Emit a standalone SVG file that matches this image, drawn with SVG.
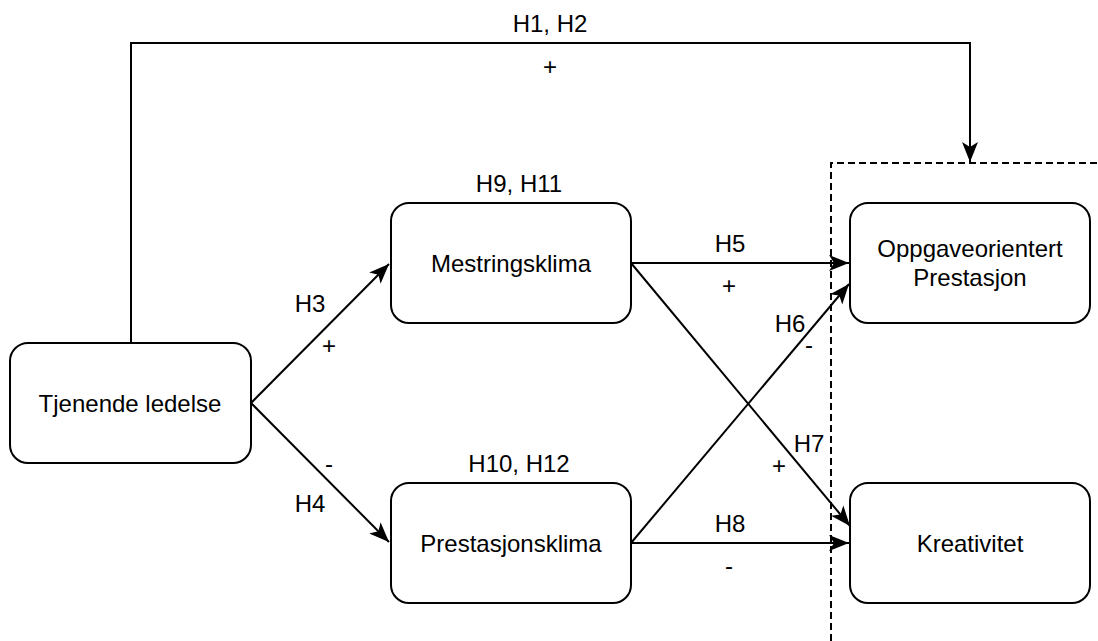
<svg xmlns="http://www.w3.org/2000/svg" width="1098" height="641" viewBox="0 0 1098 641">
<style>
.box{fill:#fff;stroke:#000;stroke-width:2}
.t{font-family:"Liberation Sans",Arial,sans-serif;font-size:24px;fill:#000;text-anchor:middle}
.c{fill:none;stroke:#000;stroke-width:2}
.d{fill:none;stroke:#000;stroke-width:2;stroke-dasharray:7 4}
</style>
<defs>
<marker id="arr" markerUnits="userSpaceOnUse" markerWidth="22" markerHeight="18" viewBox="0 0 22 18" refX="21" refY="9" orient="auto">
<path d="M1,1 L21,9 L1,17 L6,9 Z" fill="#000"/>
</marker>
</defs>
<rect x="0" y="0" width="1098" height="641" fill="#fff"/>
<g id="group-boundary">
<path class="d" d="M831,641 V163 H1098"/>
</g>
<g id="connectors">
<path class="c" d="M131,343 V43 H970 V162" marker-end="url(#arr)"/>
<path class="c" d="M251,403 L389,264" marker-end="url(#arr)"/>
<path class="c" d="M251,403 L389,542" marker-end="url(#arr)"/>
<path class="c" d="M631,263 H849" marker-end="url(#arr)"/>
<path class="c" d="M631,543 L849,284" marker-end="url(#arr)"/>
<path class="c" d="M631,263 L850,526" marker-end="url(#arr)"/>
<path class="c" d="M631,543 H849" marker-end="url(#arr)"/>
</g>
<g id="labels">
<text class="t" x="550" y="32">H1, H2</text>
<text class="t" x="550" y="75">+</text>
<text class="t" x="519" y="192">H9, H11</text>
<text class="t" x="519" y="472">H10, H12</text>
<text class="t" x="310" y="312">H3</text>
<text class="t" x="329" y="354">+</text>
<text class="t" x="329" y="472">-</text>
<text class="t" x="310" y="512">H4</text>
<text class="t" x="730" y="252">H5</text>
<text class="t" x="729" y="294">+</text>
<text class="t" x="790" y="332">H6</text>
<text class="t" x="809" y="353">-</text>
<text class="t" x="809" y="452">H7</text>
<text class="t" x="779" y="474">+</text>
<text class="t" x="730" y="532">H8</text>
<text class="t" x="729" y="574">-</text>
</g>
<g id="node-tjenende">
<rect class="box" x="10" y="343" width="241" height="120" rx="18"/>
<text class="t" x="130" y="411.5">Tjenende ledelse</text>
</g>
<g id="node-mestring">
<rect class="box" x="391" y="203" width="240" height="120" rx="18"/>
<text class="t" x="511" y="271.5">Mestringsklima</text>
</g>
<g id="node-prestasjon">
<rect class="box" x="391" y="483" width="240" height="120" rx="18"/>
<text class="t" x="511" y="551.5">Prestasjonsklima</text>
</g>
<g id="node-oppgave">
<rect class="box" x="850" y="203" width="240" height="120" rx="18"/>
<text class="t" x="970" y="257">Oppgaveorientert</text>
<text class="t" x="970" y="286">Prestasjon</text>
</g>
<g id="node-kreativitet">
<rect class="box" x="850" y="483" width="240" height="120" rx="18"/>
<text class="t" x="970" y="551.5">Kreativitet</text>
</g>
</svg>
